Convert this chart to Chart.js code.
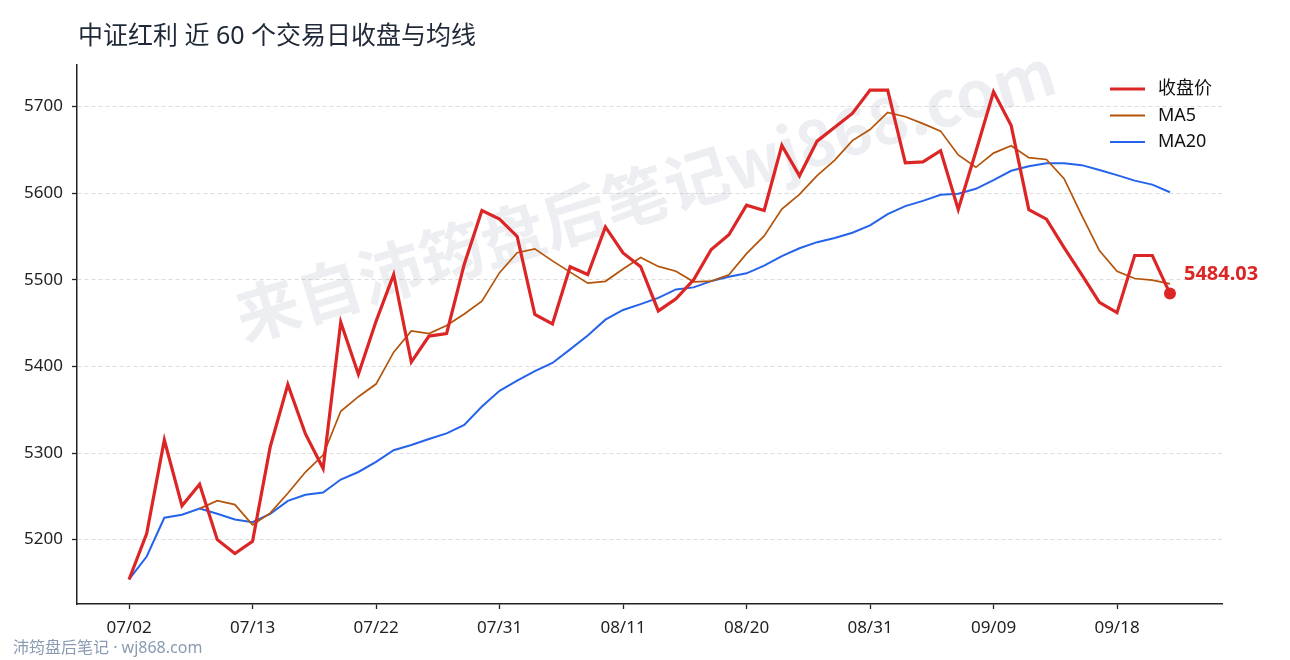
<!DOCTYPE html>
<html>
<head>
<meta charset="utf-8">
<title>中证红利 近 60 个交易日收盘与均线</title>
<script src="https://cdn.jsdelivr.net/npm/chart.js@4.4.1/dist/chart.umd.min.js"></script>
<style>
  html, body { margin: 0; padding: 0; background: #fff; }
  #chart { display: block; }
</style>
</head>
<body>
<canvas id="chart" width="1290" height="660"></canvas>
<script>
// 60 trading days, one label per point
const dates = [
  '07/02','07/03','07/04','07/07','07/08','07/09','07/10','07/13',
  '07/14','07/15','07/16','07/17','07/18','07/21','07/22',
  '07/23','07/24','07/25','07/28','07/29','07/30','07/31',
  '08/01','08/04','08/05','08/06','08/07','08/08','08/11',
  '08/12','08/13','08/14','08/15','08/18','08/19','08/20',
  '08/21','08/22','08/25','08/26','08/27','08/28','08/31',
  '09/01','09/02','09/03','09/04','09/05','09/08','09/09',
  '09/10','09/11','09/12','09/15','09/16','09/17','09/18',
  '09/19','09/22','09/23'
];

const closes = [
  5154, 5207, 5315, 5239, 5264, 5200, 5184, 5198, 5307, 5379,
  5322, 5282, 5451, 5391, 5452, 5506, 5405, 5435, 5438, 5518,
  5580, 5570, 5550, 5460, 5449, 5515, 5506, 5561, 5531, 5515,
  5464, 5478, 5500, 5535, 5552, 5586, 5580, 5655, 5620, 5660,
  5676, 5692, 5719, 5719, 5635, 5636, 5649, 5581, 5648, 5717,
  5678, 5581, 5570, 5537, 5506, 5474, 5462, 5528, 5528, 5484.03
];

const ma5 = [
  null, null, null, null, 5235.8, 5245.0, 5240.4, 5217.0, 5230.6, 5253.6,
  5278.0, 5297.6, 5348.2, 5365.0, 5379.6, 5416.4, 5441.0, 5437.8, 5447.2, 5460.4,
  5475.2, 5508.2, 5531.2, 5535.6, 5521.8, 5508.8, 5496.0, 5498.2, 5512.4, 5525.6,
  5515.4, 5509.8, 5497.6, 5498.4, 5505.8, 5530.2, 5550.6, 5581.6, 5598.6, 5620.2,
  5638.2, 5660.6, 5673.4, 5693.2, 5688.2, 5680.2, 5671.6, 5644.0, 5629.8, 5646.2,
  5654.6, 5641.0, 5638.8, 5616.6, 5574.4, 5533.6, 5509.8, 5501.4, 5499.6, 5495.2
];

const ma20 = [
  5154.0, 5180.5, 5225.3, 5228.8, 5235.8, 5229.8, 5223.3, 5220.1, 5229.8, 5244.7,
  5251.7, 5254.3, 5269.4, 5278.1, 5289.7, 5303.2, 5309.2, 5316.2, 5322.6, 5332.4,
  5353.7, 5371.8, 5383.6, 5394.6, 5403.9, 5419.6, 5435.7, 5453.9, 5465.1, 5471.9,
  5479.0, 5488.8, 5491.2, 5498.4, 5503.4, 5507.4, 5516.2, 5527.2, 5536.3, 5543.4,
  5548.2, 5554.3, 5562.7, 5575.7, 5585.0, 5591.0, 5598.2, 5599.2, 5605.0, 5615.1,
  5625.8, 5631.0, 5634.5, 5634.6, 5632.3, 5626.7, 5620.8, 5614.4, 5609.8, 5601.0
];

const yTicks = [5200, 5300, 5400, 5500, 5600, 5700];
const xTickIdx = [0, 7, 14, 21, 28, 35, 42, 49, 56];

const seriesNames = ['收盘价', 'MA5', 'MA20'];
const colors = { close: '#dc2626', ma5: '#b45309', ma20: '#2563eb' };
const FONT = '"Noto Sans", "Noto Sans CJK SC", sans-serif';
const CJK = '"Noto Sans CJK SC", sans-serif';

const toPoints = arr => arr.map((v, i) => ({ x: i, y: v }));
const lastIdx = closes.length - 1;

// title, watermark, legend, end label and footer
const decor = {
  id: 'decor',
  beforeDatasetsDraw(chart) {
    const ctx = chart.ctx;
    ctx.save();
    ctx.translate(645, 194);
    ctx.rotate(-17 * Math.PI / 180);
    ctx.font = 'bold 64px ' + CJK;
    ctx.fillStyle = 'rgba(160, 166, 185, 0.19)';
    ctx.textAlign = 'center';
    ctx.textBaseline = 'middle';
    ctx.fillText('来自沛筠盘后笔记wj868.com', 0, 0);
    ctx.restore();
  },
  afterDatasetsDraw(chart) {
    const ctx = chart.ctx;
    const x = chart.scales.x.getPixelForValue(lastIdx);
    const y = chart.scales.y.getPixelForValue(closes[lastIdx]);
    ctx.save();
    ctx.font = 'bold 20px ' + FONT;
    ctx.fillStyle = colors.close;
    ctx.textAlign = 'left';
    ctx.textBaseline = 'middle';
    ctx.fillText(closes[lastIdx].toFixed(2), x + 14, y - 19);
    ctx.restore();
  },
  afterDraw(chart) {
    const ctx = chart.ctx;
    ctx.save();
    // title
    ctx.font = '25px ' + FONT;
    ctx.fillStyle = '#1f2937';
    ctx.textAlign = 'left';
    ctx.textBaseline = 'middle';
    ctx.fillText('中证红利 近 60 个交易日收盘与均线', 78, 37);

    // legend
    const items = [
      { label: seriesNames[0], color: colors.close, w: 3.2 },
      { label: seriesNames[1], color: colors.ma5, w: 2 },
      { label: seriesNames[2], color: colors.ma20, w: 2.2 }
    ];
    ctx.font = '18px ' + FONT;
    items.forEach((it, k) => {
      const ly = 89 + k * 26.5;
      ctx.strokeStyle = it.color;
      ctx.lineWidth = it.w;
      ctx.beginPath();
      ctx.moveTo(1110, ly);
      ctx.lineTo(1145, ly);
      ctx.stroke();
      ctx.fillStyle = '#111';
      ctx.fillText(it.label, 1158, ly);
    });

    // footer
    ctx.font = '16px ' + FONT;
    ctx.fillStyle = '#8a9ab3';
    ctx.fillText('沛筠盘后笔记 · wj868.com', 13, 648);
    ctx.restore();
  }
};

new Chart(document.getElementById('chart'), {
  type: 'line',
  data: {
    datasets: [
      {
        label: seriesNames[0],
        data: toPoints(closes),
        borderColor: colors.close,
        backgroundColor: colors.close,
        borderWidth: 3.2,
        pointRadius: ctx => (ctx.dataIndex === lastIdx ? 6 : 0),
        pointBorderWidth: 0,
        tension: 0
      },
      {
        label: seriesNames[1],
        data: toPoints(ma5),
        borderColor: colors.ma5,
        borderWidth: 1.7,
        pointRadius: 0,
        tension: 0
      },
      {
        label: seriesNames[2],
        data: toPoints(ma20),
        borderColor: colors.ma20,
        borderWidth: 2,
        pointRadius: 0,
        tension: 0
      }
    ]
  },
  options: {
    responsive: false,
    animation: false,
    layout: { padding: { left: 0, right: 68, top: 65, bottom: 0 } },
    plugins: {
      legend: { display: false },
      title: { display: false },
      tooltip: { enabled: false }
    },
    scales: {
      x: {
        type: 'linear',
        min: -2.95,
        max: 61.95,
        afterBuildTicks: s => { s.ticks = xTickIdx.map(v => ({ value: v })); },
        afterFit: s => { s.height = 56; },
        ticks: {
          callback: v => dates[v],
          font: { family: FONT, size: 17 },
          color: '#222',
          padding: 9,
          maxRotation: 0,
          autoSkip: false
        },
        grid: {
          drawOnChartArea: false,
          drawTicks: true,
          tickLength: 5,
          tickColor: '#222',
          tickWidth: 1.3
        },
        border: { color: '#222', width: 1.5 }
      },
      y: {
        type: 'linear',
        min: 5125.7,
        max: 5747.9,
        afterBuildTicks: s => { s.ticks = yTicks.map(v => ({ value: v })); },
        afterFit: s => { s.width = 77; },
        ticks: {
          callback: v => String(v),
          font: { family: FONT, size: 17 },
          color: '#222',
          padding: 9
        },
        grid: {
          color: '#dcdcdc',
          lineWidth: 1,
          drawTicks: true,
          tickLength: 5,
          tickColor: '#222',
          tickWidth: 1.3,
          tickBorderDash: []
        },
        border: { color: '#222', width: 1.5, dash: [4, 3] }
      }
    }
  },
  plugins: [decor]
});
</script>
</body>
</html>
